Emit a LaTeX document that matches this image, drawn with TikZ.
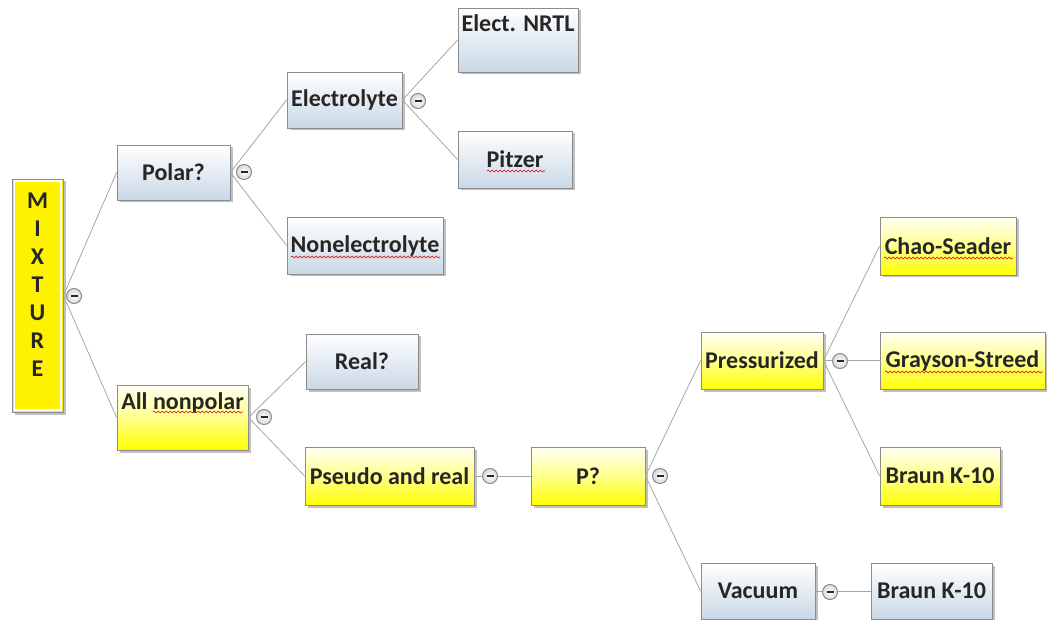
\documentclass[tikz,border=0pt]{standalone}
\usepackage{fontspec}
\setmainfont{Carlito}
\usetikzlibrary{shadows,decorations.pathmorphing}
\definecolor{bluebot}{HTML}{C9D8E6}
\definecolor{edgegray}{HTML}{A6A6A6}
\definecolor{boxborder}{HTML}{8C8C8C}
\definecolor{txt}{HTML}{262626}
\begin{document}
\begin{tikzpicture}[x=1pt,y=-1pt,
  box/.style={rectangle, draw=boxborder, line width=0.8pt, inner sep=0pt,
    font=\bfseries\fontsize{24}{28}\selectfont, text=txt,
    drop shadow={shadow xshift=2.5pt, shadow yshift=-2.5pt, opacity=0.45, fill=black!55}},
  bluebox/.style={box, top color=white, bottom color=bluebot},
  yelbox/.style={box, top color=yellow!4, bottom color=yellow, middle color=yellow!45},
  topped/.style={text height=16pt, text depth=32pt},
  conn/.style={draw=edgegray, line width=0.8pt},
  icon/.style={circle, minimum size=15pt, inner sep=0pt, draw=boxborder, line width=1pt,
    inner color=white, outer color=gray!30,
    path picture={\draw[line width=2pt, txt] ([xshift=-3.5pt]path picture bounding box.center) -- ([xshift=3.5pt]path picture bounding box.center);}},
  squig/.style={draw=red!85!black, line width=0.6pt, decorate, decoration={snake, segment length=4pt, amplitude=0.9pt}}
]
\useasboundingbox (0,0) rectangle (1047,620);

% nodes
\node[box, fill=yellow, minimum width=51pt, minimum height=233pt, align=center,
      font=\bfseries\fontsize{24}{28}\selectfont] (mix) at (37.5,295.5) {M\\I\\X\\T\\U\\R\\E\\[-6pt]~};
\draw[white, line width=1.2pt] ([xshift=2.5pt,yshift=-2.5pt]mix.north west) rectangle ([xshift=-2.5pt,yshift=2.5pt]mix.south east);
\node[bluebox, minimum width=113pt, minimum height=55pt] (polar) at (173.5,172.5) {Polar?};
\node[bluebox, minimum width=115pt, minimum height=56pt] (electro) at (344.5,100) {Electrolyte};
\node[bluebox, topped, minimum width=120pt, minimum height=64pt] (nrtl) at (518,40) {Elect. NRTL};
\node[bluebox, minimum width=114pt, minimum height=57pt] (pitzer) at (515,159.5) {Pitzer};
\node[bluebox, minimum width=156pt, minimum height=57pt] (nonel) at (365,245.5) {Nonelectrolyte};
\node[yelbox, topped, minimum width=131pt, minimum height=65pt] (allnp) at (182.5,417.5) {All nonpolar};
\node[bluebox, minimum width=112pt, minimum height=55pt] (real) at (362,361.5) {Real?};
\node[yelbox, minimum width=169pt, minimum height=58pt] (pseudo) at (389.5,476) {Pseudo and real};
\node[yelbox, minimum width=114pt, minimum height=58pt] (p) at (588,476) {P?};
\node[yelbox, minimum width=122pt, minimum height=57pt] (press) at (762,360.5) {Pressurized};
\node[yelbox, minimum width=136pt, minimum height=58pt] (chao) at (948,246) {Chao-Seader};
\node[yelbox, minimum width=165pt, minimum height=57pt] (gray) at (962.5,360.5) {Grayson-Streed};
\node[yelbox, minimum width=120pt, minimum height=58pt] (braunA) at (940,476) {Braun K-10};
\node[bluebox, minimum width=114pt, minimum height=56pt] (vac) at (758,591) {Vacuum};
\node[bluebox, minimum width=121pt, minimum height=56pt] (braunB) at (931.5,591) {Braun K-10};

% connectors
\draw[conn] (mix.east) -- (polar.west);
\draw[conn] (mix.east) -- (allnp.west);
\draw[conn] (polar.east) -- (electro.west);
\draw[conn] (polar.east) -- (nonel.west);
\draw[conn] (electro.east) -- (nrtl.west);
\draw[conn] (electro.east) -- (pitzer.west);
\draw[conn] (allnp.east) -- (real.west);
\draw[conn] (allnp.east) -- (pseudo.west);
\draw[conn] (pseudo.east) -- (p.west);
\draw[conn] (p.east) -- (press.west);
\draw[conn] (p.east) -- (vac.west);
\draw[conn] (press.east) -- (chao.west);
\draw[conn] (press.east) -- (gray.west);
\draw[conn] (press.east) -- (braunA.west);
\draw[conn] (vac.east) -- (braunB.west);

% collapse icons
\node[icon] (imix) at (74,296) {};
\node[icon] (ipolar) at (244,172) {};
\node[icon] (ielectro) at (418,101) {};
\node[icon] (iallnp) at (264,417) {};
\node[icon] (ipseudo) at (490,476) {};
\node[icon] (ip) at (660,476) {};
\node[icon] (ipress) at (840,361) {};
\node[icon] (ivac) at (830,592) {};

% spell-check underlines
\draw[squig] (153,412) -- (243,412);
\draw[squig] (487,171) -- (545,171);
\draw[squig] (291,257) -- (440,257);
\draw[squig] (884,258) -- (1013,258);
\draw[squig] (885,372) -- (1043,372);
\end{tikzpicture}
\end{document}
